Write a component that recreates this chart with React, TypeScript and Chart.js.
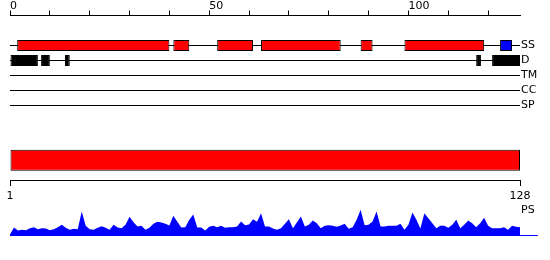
import React, { useEffect, useRef } from 'react';
import { Chart, registerables } from 'chart.js';

Chart.register(...registerables);

// ---- data ----
const trackNames = ['SS', 'D', 'TM', 'CC', 'SP'];
const psName = 'PS';
const topTicks = [0, 10, 20, 30, 40, 50, 60, 70, 80, 90, 100, 110, 120];
const topLabels = [0, 50, 100];
const seqStart = 1;
const seqEnd = 128;

// secondary structure segments (residue coordinates)
const ssHelix: [number, number][] = [[1.8, 40], [41, 45], [52, 61], [63, 83], [88, 91], [99, 119]];
const ssStrand: [number, number][] = [[123, 126]];
// disorder segments
const disorder: [number, number][] = [[0, 7], [7.8, 10], [13.8, 15], [117, 118.2], [121, 128]];
// domain bar
const domain: [number, number][] = [[0, 128]];
// PS profile, one value per residue position
const psValues = [
  1, 8, 5, 5.7, 5.3, 7.3, 8.3, 6.3, 7.3, 7,
  5.3, 6.3, 8.3, 10.7, 7.7, 5.7, 6.7, 6.3, 24, 9.7,
  6.3, 5.7, 7.7, 9.3, 7.7, 5.7, 10.7, 8, 7.3, 10.7,
  18.7, 13.3, 9, 9.7, 5.7, 7.7, 11.7, 13.7, 13, 11.7,
  10, 19.7, 13.7, 8, 8.3, 15.7, 21, 8, 8, 5,
  8.7, 9.7, 8.3, 9.7, 7.7, 8.3, 8.3, 9, 14, 10.3,
  11, 16.3, 13.7, 22.3, 9, 9, 7, 5.7, 7.3, 11.7,
  16.3, 7.3, 13, 19, 9, 10.7, 15, 12.3, 7.3, 9.7,
  10.3, 9.7, 8.7, 10, 11.7, 6.7, 8.3, 15.7, 25.7, 10.3,
  10.7, 14, 24, 9, 9, 9.7, 9.7, 9.7, 11.7, 5.7,
  10.7, 23, 15.7, 7, 22.3, 17.3, 12.3, 7.3, 9.7, 9.7,
  7.7, 10.7, 15.7, 7.3, 10.7, 15, 12.3, 8.3, 12.3, 17.7,
  9.7, 7.3, 7.3, 7.3, 8.3, 5.7, 9.7, 8.7, 8.3,
];
const psTailEnd = 132.5;

export default function App() {
  const ref = useRef<HTMLCanvasElement | null>(null);

  useEffect(() => {
    if (!ref.current) return;
    Chart.defaults.font.family = 'DejaVu Sans';
    Chart.defaults.font.size = 11;
    Chart.defaults.color = '#000';

    // layout rows on the track axis
    const rowOf: Record<string, number> = { SS: 2, D: 3, TM: 4, CC: 5, SP: 6 };
    const psRow = 13;
    const domainRow = 9.65;
    const bottomAxisRow = 11;
    const rowTicks = [...trackNames.map((n) => rowOf[n]), psRow];
    const rowLabels = [...trackNames, psName];

    const RED = '#ff0000';
    const BLUE = '#0000ff';
    const BLACK = '#000000';

    const boxData = [
      ...ssHelix.map((s) => ({ x: s, y: rowOf.SS })),
      ...ssStrand.map((s) => ({ x: s, y: rowOf.SS })),
      ...disorder.map((s) => ({ x: s, y: rowOf.D })),
    ];
    const boxColors = [
      ...ssHelix.map(() => RED),
      ...ssStrand.map(() => BLUE),
      ...disorder.map(() => BLACK),
    ];

    const lineSets = trackNames.map((n) => ({
      type: 'line' as const,
      data: [{ x: 0, y: rowOf[n] }, { x: seqEnd, y: rowOf[n] }],
      xAxisID: 'x',
      yAxisID: 'yT',
      borderColor: BLACK,
      borderWidth: 1,
      pointRadius: 0,
      fill: false,
      order: 5,
    }));

    const chart = new Chart(ref.current, {
      type: 'line',
      data: {
        datasets: [
          {
            type: 'bar',
            indexAxis: 'y',
            data: boxData as any,
            xAxisID: 'x',
            yAxisID: 'yT',
            backgroundColor: boxColors,
            borderColor: BLACK,
            borderWidth: 1,
            borderSkipped: false,
            barThickness: 11,
            inflateAmount: 0,
            order: 1,
          } as any,
          {
            type: 'bar',
            indexAxis: 'y',
            data: domain.map((s) => ({ x: s, y: domainRow })) as any,
            xAxisID: 'x',
            yAxisID: 'yB',
            backgroundColor: RED,
            borderColor: BLACK,
            borderWidth: 1,
            borderSkipped: false,
            barThickness: 21,
            inflateAmount: 0,
            order: 1,
          } as any,
          ...lineSets,
          {
            type: 'line',
            data: psValues.map((v, i) => ({ x: i, y: v })),
            xAxisID: 'x',
            yAxisID: 'yPS',
            borderWidth: 0,
            borderColor: BLUE,
            backgroundColor: BLUE,
            pointRadius: 0,
            tension: 0,
            fill: 'start',
            order: 3,
          },
          {
            type: 'line',
            data: [{ x: 0, y: 0 }, { x: psTailEnd, y: 0 }],
            xAxisID: 'x',
            yAxisID: 'yPS',
            borderWidth: 1,
            borderColor: BLUE,
            pointRadius: 0,
            fill: false,
            clip: false as any,
            order: 4,
          },
        ],
      },
      options: {
        responsive: false,
        animation: false,
        devicePixelRatio: 1,
        layout: { padding: { left: 10, right: 0, top: 0.5, bottom: 24 } },
        plugins: { legend: { display: false }, tooltip: { enabled: false } },
        events: [],
        scales: {
          x: {
            type: 'linear',
            position: 'top',
            min: 0,
            max: seqEnd,
            offset: false,
            afterBuildTicks: (s: any) => {
              s.ticks = topTicks.map((v) => ({ value: v }));
            },
            afterFit: (s: any) => {
              s.height = 15;
            },
            grid: { display: true, drawOnChartArea: false, drawTicks: true, tickLength: 5, color: BLACK, lineWidth: 1 },
            border: { display: true, color: BLACK, width: 1 },
            ticks: {
              align: 'start',
              padding: -2,
              autoSkip: false,
              maxRotation: 0,
              minRotation: 0,
              color: BLACK,
              callback: (v: any) => (topLabels.includes(Number(v)) ? String(v) : ''),
            },
          },
          x2: {
            type: 'linear',
            axis: 'x',
            position: { yT: bottomAxisRow } as any,
            min: seqStart,
            max: seqEnd,
            offset: false,
            afterBuildTicks: (s: any) => {
              s.ticks = [{ value: seqStart }, { value: seqEnd }];
            },
            grid: { display: true, drawOnChartArea: false, drawTicks: true, tickLength: 5, color: BLACK, lineWidth: 1 },
            border: { display: true, color: BLACK, width: 1 },
            ticks: { padding: 4, autoSkip: false, maxRotation: 0, minRotation: 0, color: BLACK },
          } as any,
          yT: {
            type: 'linear',
            position: 'right',
            reverse: true,
            min: 0,
            max: 14.7,
            offset: false,
            afterBuildTicks: (s: any) => {
              s.ticks = rowTicks.map((v) => ({ value: v }));
            },
            afterFit: (s: any) => {
              s.width = 30;
            },
            grid: { display: false, drawTicks: false },
            border: { display: false },
            ticks: {
              padding: 1,
              autoSkip: false,
              color: BLACK,
              callback: (_v: any, i: number) => rowLabels[i],
            },
          },
          yB: {
            type: 'linear',
            display: false,
            reverse: true,
            min: 0,
            max: 14.7,
            offset: false,
          },
          yPS: {
            type: 'linear',
            display: false,
            min: -0.5,
            max: 220,
            offset: false,
          },
        },
      } as any,
    });
    return () => chart.destroy();
  }, []);

  return (
    <div style={{ position: 'absolute', left: 0, top: 0, width: 550, height: 260, background: '#fff' }}>
      <canvas ref={ref} width={550} height={260} style={{ display: 'block', width: 550, height: 260 }} />
    </div>
  );
}
